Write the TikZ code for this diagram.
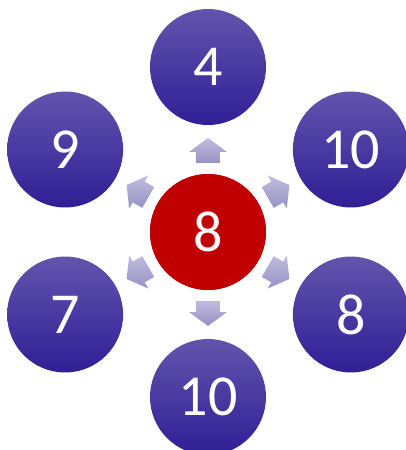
\documentclass[tikz,border=0pt]{standalone}
\usepackage{fontspec}
\setmainfont{Carlito}
\definecolor{ringtop}{RGB}{98,84,172}
\definecolor{ringmid}{RGB}{62,42,160}
\definecolor{ringbot}{RGB}{48,30,150}
\definecolor{hubred}{RGB}{192,0,0}
\definecolor{flowtop}{RGB}{192,188,222}
\definecolor{flowbot}{RGB}{150,146,196}
\tikzset{
  ring/.style={circle, minimum size=116pt, inner sep=0pt, text=white,
    font=\fontsize{58}{58}\selectfont,
    top color=ringtop, middle color=ringmid, bottom color=ringbot},
  hub/.style={ring, fill=hubred, top color=hubred, bottom color=hubred, middle color=hubred},
  flow/.style={top color=flowtop, bottom color=flowbot}
}
\begin{document}
\begin{tikzpicture}[x=1pt,y=1pt]
\useasboundingbox (-208,-218) rectangle (197,232);

% centre
\node[hub] (mid) at (0,0) {8};

% neighbours
\node[ring] (top) at (90:165) {4};
\node[ring] (upr) at (30:165) {10};
\node[ring] (lwr) at (-30:165) {8};
\node[ring] (bot) at (-90:165) {10};
\node[ring] (lwl) at (-150:165) {7};
\node[ring] (upl) at (150:165) {9};

% block arrows
\foreach \a in {90,30,-30,-90,-150,150} {
  \shade[flow, shift={(mid)}, rotate=\a]
    (69,-12) -- (80,-12) -- (80,-19) -- (94,0) -- (80,19) -- (80,12) -- (69,12) -- cycle;
}
\end{tikzpicture}
\end{document}
